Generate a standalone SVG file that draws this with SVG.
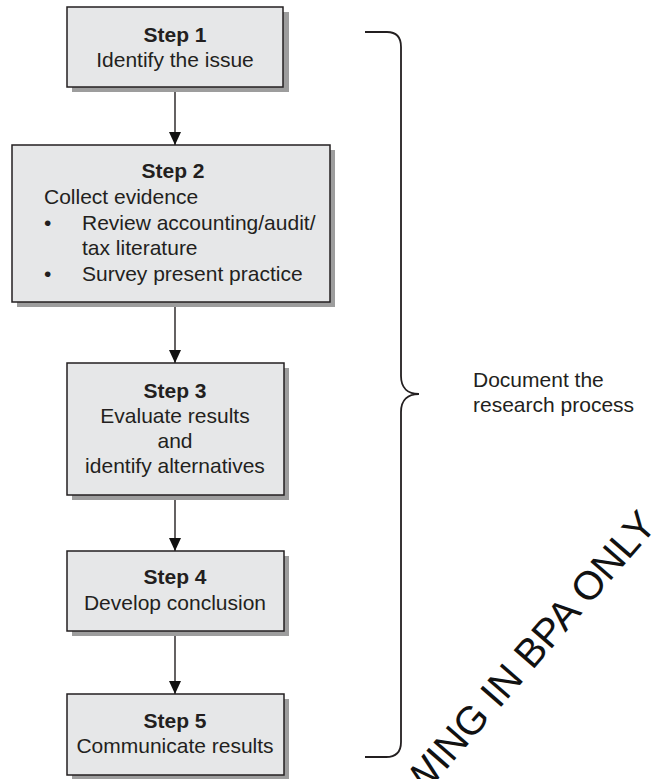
<svg xmlns="http://www.w3.org/2000/svg" width="661" height="779" viewBox="0 0 661 779">
<defs>
<style>
.shadow{fill:#9d9d9d;}
.box{fill:#e6e7e8;stroke:#231f20;stroke-width:1.5;}
.t{font-family:"Liberation Sans",Arial,sans-serif;font-size:21px;fill:#231f20;}
.b{font-weight:bold;}
.c{text-anchor:middle;}
.conn{stroke:#231f20;stroke-width:1.4;fill:none;}
.brace{stroke:#231f20;stroke-width:1.8;fill:none;}
.wm{font-family:"Liberation Sans",Arial,sans-serif;font-size:40px;fill:#111;}
</style>
<marker id="arr" viewBox="0 0 13 12" refX="13" refY="6" markerWidth="13" markerHeight="12" markerUnits="userSpaceOnUse" orient="auto">
<path d="M0,0 L13,6 L0,12 Z" fill="#111"/>
</marker>
</defs>
<rect width="661" height="779" fill="#ffffff"/>

<g id="connectors">
<line class="conn" x1="175" y1="87" x2="175" y2="145" marker-end="url(#arr)"/>
<line class="conn" x1="175" y1="302" x2="175" y2="363" marker-end="url(#arr)"/>
<line class="conn" x1="175" y1="495" x2="175" y2="551" marker-end="url(#arr)"/>
<line class="conn" x1="175" y1="631" x2="175" y2="694" marker-end="url(#arr)"/>
</g>

<g id="step1">
<rect class="shadow" x="72" y="12" width="217" height="80"/>
<rect class="box" x="67" y="7" width="216" height="80"/>
<text class="t b c" x="175" y="42">Step 1</text>
<text class="t c" x="175" y="67">Identify the issue</text>
</g>

<g id="step2">
<rect class="shadow" x="17" y="150" width="318" height="157"/>
<rect class="box" x="12" y="145" width="318" height="157"/>
<text class="t b c" x="173" y="178">Step 2</text>
<text class="t" x="44" y="204">Collect evidence</text>
<text class="t" x="44" y="230">•</text>
<text class="t" x="82" y="230">Review accounting/audit/</text>
<text class="t" x="82" y="255">tax literature</text>
<text class="t" x="44" y="281">•</text>
<text class="t" x="82" y="281">Survey present practice</text>
</g>

<g id="step3">
<rect class="shadow" x="72" y="368" width="217" height="132"/>
<rect class="box" x="67" y="363" width="217" height="132"/>
<text class="t b c" x="175" y="398">Step 3</text>
<text class="t c" x="175" y="423">Evaluate results</text>
<text class="t c" x="175" y="448">and</text>
<text class="t c" x="175" y="473">identify alternatives</text>
</g>

<g id="step4">
<rect class="shadow" x="72" y="556" width="217" height="80"/>
<rect class="box" x="67" y="551" width="217" height="80"/>
<text class="t b c" x="175" y="584">Step 4</text>
<text class="t c" x="175" y="610">Develop conclusion</text>
</g>

<g id="step5">
<rect class="shadow" x="72" y="699" width="217" height="81"/>
<rect class="box" x="67" y="694" width="217" height="81"/>
<text class="t b c" x="175" y="728">Step 5</text>
<text class="t c" x="175" y="753">Communicate results</text>
</g>

<g id="brace">
<path class="brace" d="M365,32 L387,32 Q401,32 401,47 L401,376 C401,388 408,394 419,394 C408,394 401,400 401,412 L401,742 Q401,757 386,757 L365,757"/>
<text class="t" x="473" y="387">Document the</text>
<text class="t" x="473" y="412">research process</text>
</g>

<g id="watermark">
<text class="wm" x="420" y="800" transform="rotate(-49 420 800)">WING IN BPA ONLY</text>
</g>
</svg>
